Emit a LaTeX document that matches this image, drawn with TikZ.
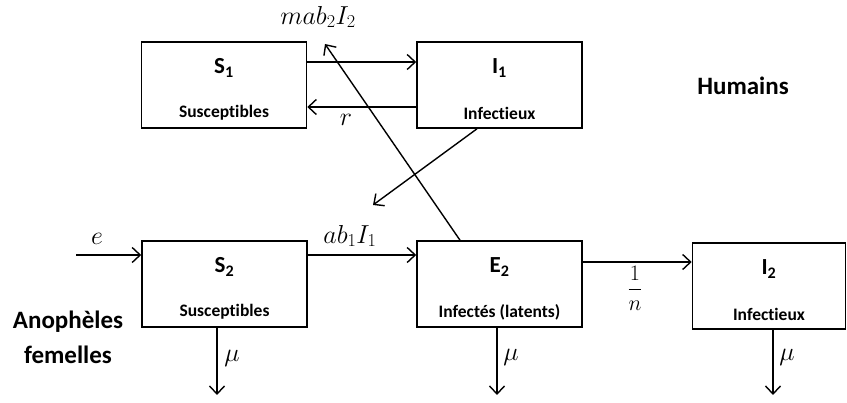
\RequirePackage{fix-cm}
\documentclass[tikz,border=0pt]{standalone}
\usepackage{fontspec}
\setmainfont[Ligatures=NoCommon]{Carlito}
\usetikzlibrary{arrows.meta}
\begin{document}
\begin{tikzpicture}[x=1pt,y=-1pt,
  box/.style={draw,line width=1.6pt,minimum width=165pt,minimum height=86pt,inner sep=0pt},
  ttl/.style={font=\bfseries\fontsize{23}{26}\selectfont,inner sep=0pt},
  sub/.style={font=\bfseries\fontsize{17.5}{20}\selectfont,inner sep=0pt},
  big/.style={font=\bfseries\fontsize{25}{35}\selectfont,inner sep=0pt,align=center},
  lbl/.style={font=\fontsize{26}{30}\selectfont,inner sep=0pt},
  frc/.style={font=\fontsize{22}{26}\selectfont,inner sep=0pt},
  arr/.style={line width=1.4pt,-{Straight Barb[length=8pt,width=15pt,line width=1.4pt]}}]
\useasboundingbox (0,0) rectangle (847,403);
% boxes
\node[box] (s1) at (224,85) {};
\node[box] (i1) at (499.5,85) {};
\node[box] (s2) at (224.5,284) {};
\node[box] (e2) at (499.5,284) {};
\node[box,minimum width=153pt] (i2) at (769,286) {};
% titles
\node[ttl] (s1t) at (224,68) {S\textsubscript{1}};
\node[sub] (s1s) at (224,113) {Susceptibles};
\node[ttl] (i1t) at (499.5,68) {I\textsubscript{1}};
\node[sub] (i1s) at (499.5,113) {Infectieux};
\node[ttl] (s2t) at (224.5,267) {S\textsubscript{2}};
\node[sub] (s2s) at (224.5,312) {Susceptibles};
\node[ttl] (e2t) at (499.5,267) {E\textsubscript{2}};
\node[sub] (e2s) at (499.5,312) {Infectés (latents)};
\node[ttl] (i2t) at (769,269) {I\textsubscript{2}};
\node[sub] (i2s) at (769,314) {Infectieux};
\node[big] (hum) at (743,86) {Humains};
\node[big] (ano) at (68,337) {Anophèles\\femelles};
% free ends
\coordinate (ein) at (76,255);
\coordinate (xa) at (373,205);
\coordinate (xb) at (325,44);
\coordinate (m1) at (217,395);
\coordinate (m2) at (497,395);
\coordinate (m3) at (773,395);
% arrows
\draw[arr] ([yshift=23pt]s1.east) -- ([yshift=23pt]s1.east -| i1.west);
\draw[arr] ([yshift=-22pt]i1.west) -- ([yshift=-22pt]i1.west -| s1.east);
\draw[arr] (i1.south -| 477,0) -- (xa);
\draw[arr] (e2.north -| 460,0) -- (xb);
\draw[arr] (ein) -- (ein -| s2.west);
\draw[arr] ([yshift=29pt]s2.east) -- ([yshift=29pt]s2.east -| e2.west);
\draw[arr] ([yshift=22pt]e2.east) -- ([yshift=22pt]e2.east -| i2.west);
\draw[arr] (s2.south -| m1) -- (m1);
\draw[arr] (e2.south -| m2) -- (m2);
\draw[arr] (i2.south -| m3) -- (m3);
% labels
\node[lbl] (lm) at (318,17) {$mab_2I_2$};
\node[lbl] (lr) at (346,120) {$r$};
\node[lbl] (le) at (97,239) {$e$};
\node[lbl] (lab) at (350,236) {$ab_1I_1$};
\node[frc] (ln) at (635,288) {$\displaystyle\frac{1}{n}$};
\node[lbl] (mu1) at (232,358) {$\mu$};
\node[lbl] (mu2) at (511,357) {$\mu$};
\node[lbl] (mu3) at (787,357) {$\mu$};
\end{tikzpicture}
\end{document}
